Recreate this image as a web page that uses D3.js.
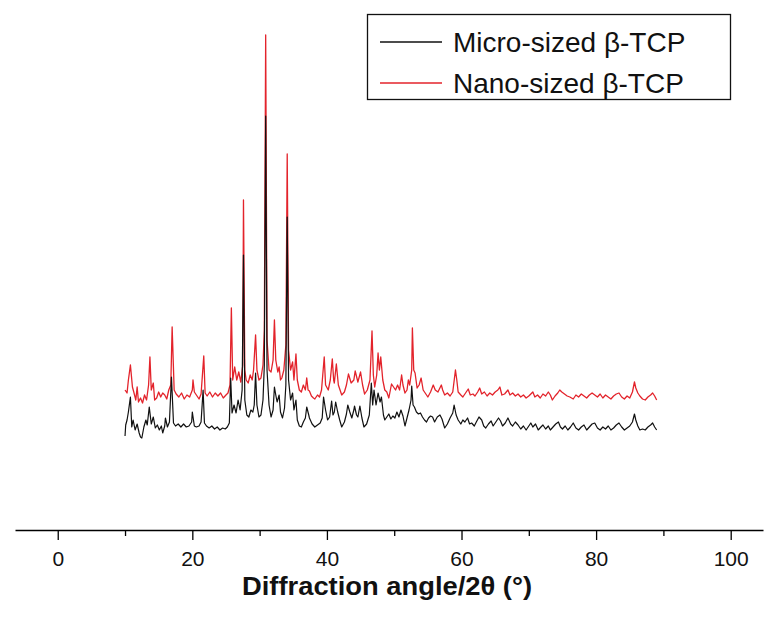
<!DOCTYPE html>
<html>
<head>
<meta charset="utf-8">
<script src="https://cdn.jsdelivr.net/npm/d3@7"></script>
<style>
  body { margin: 0; background: #fff; }
  text { font-family: "Liberation Sans", Arial, sans-serif; }
</style>
</head>
<body>
<script>
// XRD patterns, 2theta (deg) and intensity (a.u.)
var microAngle = [10.0,10.1,10.3,10.5,10.8,11.0,11.2,11.5,11.8,12.1,12.3,12.5,12.8,13.1,13.3,13.6,13.9,14.2,14.5,14.8,15.1,15.4,15.6,15.9,16.0,16.3,16.6,16.9,17.2,17.5,17.9,18.3,18.7,19.1,19.5,19.9,20.0,20.3,20.6,21.0,21.3,21.6,21.8,22.1,22.5,22.9,23.3,23.7,24.1,24.5,24.9,25.2,25.5,25.7,25.9,26.2,26.5,26.8,27.1,27.4,27.6,27.8,28.1,28.4,28.7,29.0,29.2,29.4,29.6,29.9,30.2,30.5,30.7,30.9,31.1,31.4,31.7,32.0,32.2,32.4,32.6,32.9,33.1,33.4,33.7,33.9,34.1,34.3,34.6,34.9,35.1,35.4,35.6,35.9,36.2,36.5,36.8,37.0,37.3,37.4,37.8,38.2,38.6,39.0,39.3,39.5,39.8,40.1,40.4,40.7,40.9,41.1,41.3,41.6,41.9,42.2,42.6,42.9,43.1,43.4,43.7,44.0,44.1,44.4,44.6,44.9,45.2,45.5,45.9,46.3,46.6,46.8,47.0,47.3,47.6,47.9,48.1,48.4,48.6,48.9,49.2,49.5,49.8,50.1,50.4,50.7,51.0,51.3,51.6,51.9,52.2,52.5,52.6,52.8,53.0,53.3,53.6,53.9,54.2,54.5,54.8,55.1,55.4,55.7,56.0,56.4,56.8,57.1,57.5,57.9,58.3,58.7,58.9,59.2,59.5,59.9,60.2,60.5,60.9,61.2,61.5,61.9,62.2,62.6,63.0,63.3,63.6,64.0,64.4,64.7,65.1,65.5,65.8,66.1,66.5,66.9,67.3,67.6,68.0,68.4,68.8,69.2,69.6,70.0,70.3,70.6,71.0,71.4,71.8,72.1,72.5,72.9,73.2,73.6,74.0,74.4,74.7,75.0,75.4,75.8,76.2,76.6,77.0,77.4,77.8,78.2,78.6,79.0,79.4,79.8,80.2,80.6,81.0,81.4,81.8,82.2,82.6,83.0,83.4,83.8,84.2,84.6,85.0,85.4,85.7,85.9,86.2,86.5,86.9,87.3,87.7,88.1,88.4,88.7,89.0];
var microIntensity = [94,105,110,118,133,103,110,100,106,97,93,92,103,110,105,123,106,113,102,105,100,104,97,104,112,103,108,153,107,104,106,103,106,103,104,108,118,104,103,104,108,140,107,104,102,104,101,103,100,102,101,103,107,152,117,125,117,130,120,140,275,130,115,113,120,118,125,157,125,113,115,130,165,414,160,125,113,120,143,135,128,135,118,112,122,145,313,150,130,137,120,130,110,104,103,108,112,123,115,112,106,103,105,107,112,133,120,110,113,129,115,118,128,118,110,103,108,116,125,118,112,120,124,115,113,124,112,103,106,115,147,125,140,125,137,128,133,115,110,113,116,111,114,112,118,113,120,114,104,112,120,130,144,125,123,118,116,117,113,110,108,112,114,113,108,113,115,111,102,106,112,117,125,115,110,106,110,108,112,106,107,104,108,113,110,104,102,106,109,104,108,112,109,104,107,112,106,104,108,105,101,104,100,104,107,103,106,100,103,105,101,104,100,103,106,108,103,101,104,100,103,107,102,100,103,105,100,103,106,107,102,100,103,101,104,100,102,105,107,103,100,102,104,108,116,110,104,100,101,100,103,105,107,103,100];

var nanoAngle = [10.0,10.3,10.5,10.8,11.1,11.3,11.6,11.8,12.0,12.3,12.6,12.9,13.2,13.5,13.7,13.9,14.2,14.4,14.7,15.0,15.3,15.6,15.9,16.2,16.5,16.8,17.0,17.3,17.6,18.0,18.4,18.8,19.2,19.6,20.0,20.1,20.3,20.6,21.0,21.3,21.7,21.9,22.2,22.6,23.0,23.4,23.8,24.2,24.6,25.0,25.3,25.6,25.8,26.0,26.3,26.6,26.9,27.2,27.5,27.6,27.8,28.0,28.3,28.6,28.9,29.1,29.4,29.6,29.9,30.2,30.5,30.7,30.9,31.1,31.4,31.7,32.0,32.2,32.4,32.7,32.9,33.1,33.3,33.6,33.9,34.1,34.3,34.6,34.9,35.1,35.4,35.6,35.9,36.2,36.5,36.8,37.0,37.2,37.4,37.7,38.0,38.2,38.6,38.9,39.2,39.6,39.8,40.2,40.5,40.8,41.0,41.1,41.4,41.7,42.2,42.6,42.9,43.2,43.6,44.0,44.2,44.6,45.0,45.3,45.6,46.0,46.4,46.7,46.9,47.1,47.4,47.6,47.8,48.0,48.3,48.6,48.9,49.2,49.6,49.9,50.2,50.5,50.8,51.1,51.3,51.6,51.9,52.1,52.3,52.6,52.7,52.9,53.1,53.4,53.7,54.0,54.3,54.6,55.0,55.4,55.8,56.1,56.5,57.0,57.2,57.5,57.9,58.3,58.7,59.1,59.3,59.5,59.9,60.2,60.6,61.0,61.3,61.7,62.0,62.4,62.7,63.0,63.4,63.8,64.2,64.6,65.0,65.4,65.7,66.0,66.4,66.9,67.2,67.6,68.0,68.4,68.8,69.2,69.6,70.0,70.3,70.6,70.9,71.3,71.7,72.1,72.5,72.9,73.2,73.5,73.9,74.3,74.6,74.9,75.3,75.7,76.1,76.6,77.0,77.4,77.8,78.2,78.6,79.0,79.4,79.8,80.2,80.6,81.0,81.4,81.8,82.2,82.6,83.0,83.4,83.8,84.2,84.6,85.0,85.4,85.7,85.9,86.2,86.5,86.9,87.3,87.7,88.1,88.4,88.7,89.0];
var nanoIntensity = [140,137,150,165,143,138,130,143,128,132,127,135,130,145,173,140,147,130,132,138,133,137,135,131,140,145,203,140,136,133,137,131,135,133,140,150,138,135,131,136,174,137,134,138,133,137,134,137,132,135,137,145,222,150,163,150,158,148,165,330,160,150,147,155,150,160,195,160,150,152,165,200,495,190,160,158,170,210,170,158,163,150,152,160,185,376,180,160,168,150,176,150,140,138,145,140,152,140,139,134,132,131,135,133,140,173,145,140,150,171,150,147,166,145,135,138,145,156,147,150,159,148,158,145,136,140,150,199,155,143,155,177,160,173,150,140,138,132,146,143,140,145,140,155,145,137,140,150,145,160,202,160,157,142,145,152,140,137,133,138,145,140,138,145,140,135,137,134,138,160,150,138,135,133,137,141,135,136,134,138,142,136,138,134,137,135,138,140,143,135,136,140,135,137,134,136,133,135,132,134,136,138,133,135,132,136,134,138,135,130,134,137,140,138,136,134,133,131,135,133,136,134,132,135,137,135,133,136,132,135,133,131,134,136,137,133,131,134,132,138,148,142,137,134,131,130,133,135,137,134,130];

var majorTicks = [0, 20, 40, 60, 80, 100];
var minorTicks = [10, 30, 50, 70, 90];
var seriesNames = ["Micro-sized \u03b2-TCP", "Nano-sized \u03b2-TCP"];
var seriesColors = ["#111111", "#e3232b"];

var width = 771,
    height = 617;

var x = d3.scaleLinear().domain([-6.35, 104.8]).range([15, 763]);
var y = d3.scaleLinear().domain([0, 530]).range([530, 0]);

var svg = d3.select("body").append("svg")
    .attr("width", width)
    .attr("height", height);

var line = d3.line()
    .x(function(d) { return x(d[0]); })
    .y(function(d) { return y(d[1]); });

var micro = microAngle.map(function(a, i) { return [a, microIntensity[i]]; });
var nano = nanoAngle.map(function(a, i) { return [a, nanoIntensity[i]]; });

// red first, black drawn over it (dark cores visible in the tall peaks)
svg.append("path")
    .datum(nano)
    .attr("fill", "none")
    .attr("stroke", seriesColors[1])
    .attr("stroke-width", 1.3)
    .attr("stroke-linejoin", "round")
    .attr("d", line);

svg.append("path")
    .datum(micro)
    .attr("fill", "none")
    .attr("stroke", seriesColors[0])
    .attr("stroke-width", 1.2)
    .attr("stroke-linejoin", "round")
    .attr("d", line);

// x axis
var axis = svg.append("g")
    .attr("transform", "translate(0,530)")
    .call(d3.axisBottom(x).tickValues(majorTicks).tickSize(10).tickSizeOuter(0).tickPadding(11));
axis.select(".domain").attr("stroke-width", 1.5);
axis.selectAll(".tick line").attr("stroke-width", 1.3);
axis.selectAll(".tick text")
    .attr("font-size", 21)
    .attr("font-family", "Liberation Sans, Arial, sans-serif")
    .attr("fill", "#111");

var minor = svg.append("g")
    .attr("transform", "translate(0,530)")
    .call(d3.axisBottom(x).tickValues(minorTicks).tickSize(6).tickSizeOuter(0).tickFormat(""));
minor.select(".domain").remove();
minor.selectAll(".tick line").attr("stroke-width", 1.3);

svg.append("text")
    .attr("x", 387)
    .attr("y", 595)
    .attr("text-anchor", "middle")
    .attr("font-size", 25)
    .attr("font-weight", "bold")
    .attr("fill", "#111")
    .attr("textLength", 290)
    .attr("lengthAdjust", "spacingAndGlyphs")
    .text("Diffraction angle/2\u03b8 (\u00b0)");

// legend
var legend = svg.append("g");
legend.append("rect")
    .attr("x", 367.5)
    .attr("y", 14.5)
    .attr("width", 363)
    .attr("height", 85)
    .attr("fill", "#fff")
    .attr("stroke", "#111")
    .attr("stroke-width", 1.3);

seriesNames.forEach(function(name, i) {
  var ly = 42 + i * 41;
  legend.append("line")
      .attr("x1", 380).attr("x2", 442)
      .attr("y1", ly).attr("y2", ly)
      .attr("stroke", seriesColors[i])
      .attr("stroke-width", 1.3);
  legend.append("text")
      .attr("x", 453)
      .attr("y", ly + 10)
      .attr("font-size", 28)
      .attr("fill", "#111")
      .text(name);
});
</script>
</body>
</html>
